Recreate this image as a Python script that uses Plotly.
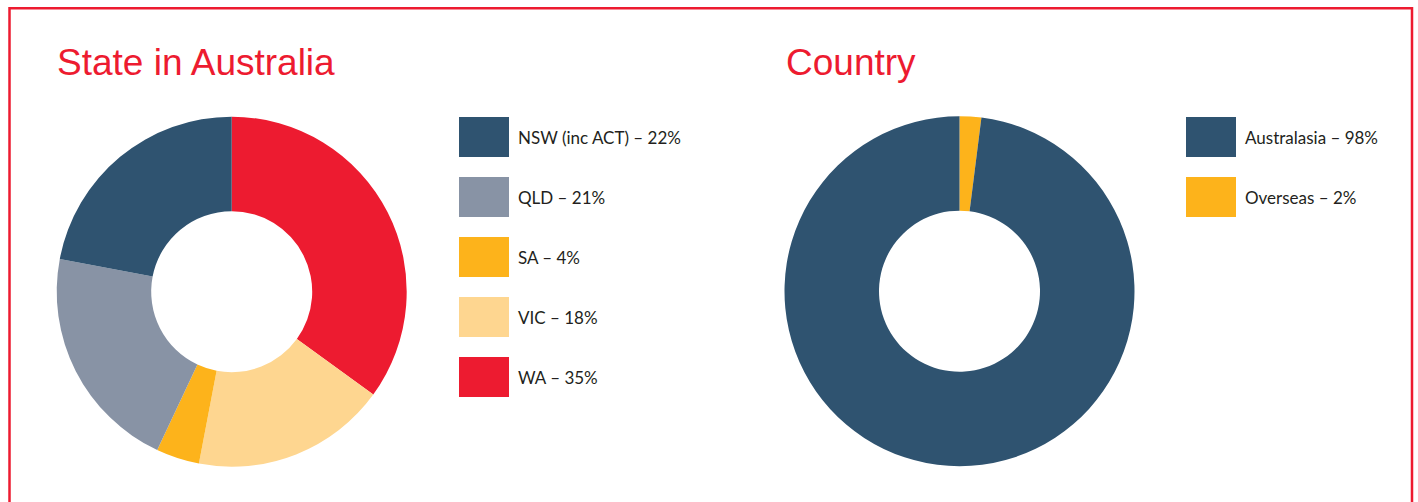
import plotly.graph_objects as go

W, H = 1418, 502

# Data
state_labels = ["NSW (inc ACT)", "QLD", "SA", "VIC", "WA"]
state_values = [22, 21, 4, 18, 35]
state_colors = ["#2F5370", "#8893A5", "#FDB31B", "#FED690", "#ED1B30"]

country_labels = ["Australasia", "Overseas"]
country_values = [98, 2]
country_colors = ["#2F5370", "#FDB31B"]

RED = "#ED1B30"
TEXT = "#231F20"


def px_x(v):
    return v / W


def px_y(v):
    return 1 - v / H


fig = go.Figure()

R = 175
HOLE = 0.46
centers = [(231.7, 291.7), (959.5, 291.2)]
for (cx, cy), labels, values, colors in [
    (centers[0], state_labels, state_values, state_colors),
    (centers[1], country_labels, country_values, country_colors),
]:
    # slices run clockwise from 12 o'clock in reverse legend order
    fig.add_trace(go.Pie(
        labels=labels[::-1], values=values[::-1], sort=False, direction="clockwise",
        rotation=0, hole=HOLE, textinfo="none", showlegend=False,
        marker=dict(colors=colors[::-1], line=dict(width=0)),
        domain=dict(x=[px_x(cx - R), px_x(cx + R)], y=[px_y(cy + R), px_y(cy - R)]),
        hovertemplate="%{label}: %{value}%<extra></extra>",
    ))

shapes = []
annotations = []

# Border
shapes.append(dict(type="rect", xref="paper", yref="paper",
                   x0=px_x(9.5), x1=px_x(1412), y0=px_y(530), y1=px_y(8.2),
                   line=dict(color=RED, width=2.5), fillcolor="rgba(0,0,0,0)"))

# Titles
for tx, title in [(55, "State in Australia"), (784, "Country")]:
    annotations.append(dict(text=title, xref="paper", yref="paper",
                            x=px_x(tx), y=px_y(62), xanchor="left", yanchor="middle",
                            showarrow=False,
                            font=dict(family="Liberation Sans, Arial", size=37, color=RED)))

# Legends
for sx, labels, values, colors in [
    (459, state_labels, state_values, state_colors),
    (1186, country_labels, country_values, country_colors),
]:
    for i, (lab, val, col) in enumerate(zip(labels, values, colors)):
        top = 117 + 60 * i
        shapes.append(dict(type="rect", xref="paper", yref="paper",
                           x0=px_x(sx), x1=px_x(sx + 50), y0=px_y(top + 40), y1=px_y(top),
                           line=dict(width=0), fillcolor=col))
        annotations.append(dict(text=f"{lab} \u2013 {val}%", xref="paper", yref="paper",
                                x=px_x(sx + 57), y=px_y(top + 20), xanchor="left",
                                yanchor="middle", showarrow=False,
                                font=dict(family="Lato", size=17, color=TEXT)))

fig.update_layout(
    width=W, height=H, margin=dict(l=0, r=0, t=0, b=0),
    paper_bgcolor="white", plot_bgcolor="white",
    shapes=shapes, annotations=annotations,
)

fig.write_html("out.html")
